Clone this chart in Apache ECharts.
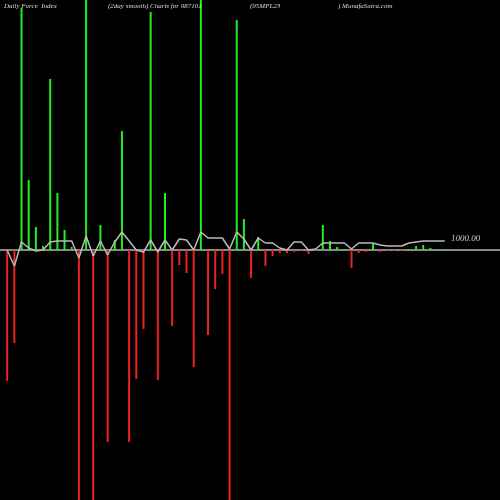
<!DOCTYPE html>
<html><head><meta charset="utf-8">
<script src="https://cdn.jsdelivr.net/npm/echarts@6/dist/echarts.min.js"></script>
<style>html,body{margin:0;background:#000}#c{width:500px;height:500px}</style>
</head><body><div id="c"></div>
<script>
var forceValues = [-131,-93,242,70,23,4,171,57,20,3,-250,250,-250,25,-192,10,119,-192,-129,-79,238,-130,57,-76,-15,-23,-117,250,-85,-39,-24,-250,230,31,-28,13,-16,-6,-3,-3,-2,-1,-4,-1,25,9,3,1,-18,-3,-2,6,-2,-1,-1,-1,1,4,5,2,1,1];
var smoothValues = [0,-16,8,2,-1,0,8,9,9,9,-8,14,-6,9,-5,8,18,9,0,-2,10,-2,10,0,11,10,0,18,12,12,12,1,18,11,0,12,7,7,2,0,8,8,0,1,7,7,7,7,1,7,7,7,5,4,4,4,7,8,9,9,9,9];
var titles = ['Daily Force  Index','(2day smooth) Charts for 987101','(95MFL23',') MunafaSutra.com'];
var lastLabel = '1000.00';

var bars = forceValues.map(function(v,i){return [i,v];});
var line = smoothValues.map(function(v,i){return [i,v];});
var ch = echarts.init(document.getElementById('c'));
var f = 'italic 7px "Liberation Serif"';
ch.setOption({
  backgroundColor:'#000',
  animation:false,
  grid:{left:0,right:0,top:0,bottom:0},
  xAxis:{type:'value',min:-1,max:68.7,axisLine:{onZero:true,lineStyle:{color:'#888',width:2}},axisTick:{show:false},axisLabel:{show:false},splitLine:{show:false}},
  yAxis:{type:'value',min:-250,max:250,axisLine:{show:false},axisTick:{show:false},axisLabel:{show:false},splitLine:{show:false}},
  graphic:[
    {type:'text',left:4,top:3,z:10,style:{text:titles[0],fill:'#ddd',font:f}},
    {type:'text',left:108,top:3,z:10,style:{text:titles[1],fill:'#ddd',font:f}},
    {type:'text',left:250,top:3,z:10,style:{text:titles[2],fill:'#ddd',font:f}},
    {type:'text',left:338,top:3,z:10,style:{text:titles[3],fill:'#ddd',font:f}},
    {type:'text',left:451,top:234,style:{text:lastLabel,fill:'#ccc',font:'italic 9px "Liberation Serif"'}}
  ],
  series:[
    {type:'bar',data:bars,barWidth:2,clip:true,
     itemStyle:{color:function(p){return p.value[1]>=0?'#22ee22':'#ee2222';}}},
    {type:'line',data:line,symbol:'none',lineStyle:{color:'#bbb',width:1.5},z:5}
  ]
});
</script></body></html>
